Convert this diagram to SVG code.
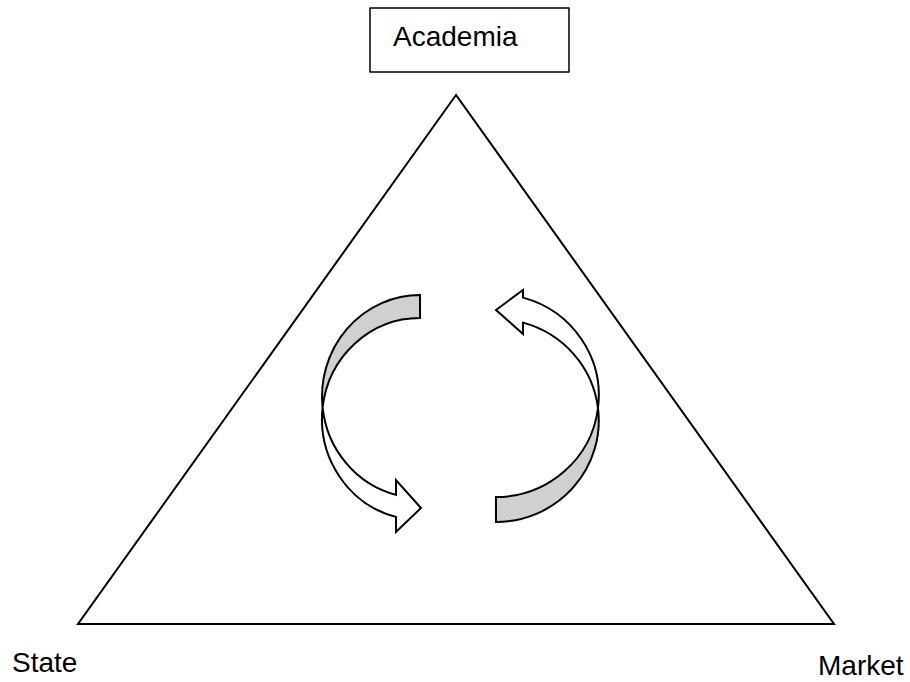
<svg xmlns="http://www.w3.org/2000/svg" width="910" height="682" viewBox="0 0 910 682">
  <style>
    .label { font-family: "Liberation Sans", Arial, sans-serif; font-size: 28px; fill: #000; }
    .edge { fill: none; stroke: #000; stroke-width: 2; stroke-linejoin: miter; }
    .band-back { fill: #d0d0d0; stroke: #000; stroke-width: 2; stroke-linejoin: miter; }
    .band-front { fill: #fff; stroke: #000; stroke-width: 2; stroke-linejoin: miter; }
    .box { fill: #fff; stroke: #000; stroke-width: 1.5; }
  </style>
  <rect width="910" height="682" fill="#fff"/>

  <!-- triangle linking the three spheres -->
  <g id="triangle">
    <polygon class="edge" points="456,95 78,624 834,624"/>
  </g>

  <g id="academia">
    <rect class="box" x="370" y="8" width="199" height="64"/>
    <text class="label" x="393" y="46">Academia</text>
  </g>

  <g id="state">
    <text class="label" x="12" y="672">State</text>
  </g>

  <g id="market">
    <text class="label" x="818" y="675">Market</text>
  </g>

  <!-- circulating arrows inside the triangle -->
  <g id="connectors">
    <!-- left curved arrow: shaded back band, then white front band with head -->
    <path class="band-back" d="M 420 295 A 98 101.5 0 0 0 322.6 407.7 A 98 101 0 0 1 420 318 Z"/>
    <path class="band-front" d="M 322.6 407.7 A 98 101.5 0 0 0 396 494.9 L 396 480 L 421 508 L 396 532 L 396 516.9 A 98 101 0 0 1 322.6 407.7 Z"/>

    <!-- right curved arrow: shaded back band, then white front band with head -->
    <path class="band-back" d="M 598 408 A 102.8 101.5 0 0 1 496 522 L 496 497 A 102.8 101.5 0 0 0 598 408 Z"/>
    <path class="band-front" d="M 598 408 A 102.8 101.5 0 0 0 523 297.6 L 523 290 L 496 310 L 523 334 L 523 322.6 A 102.8 101.5 0 0 1 598 408 Z"/>
  </g>
</svg>
